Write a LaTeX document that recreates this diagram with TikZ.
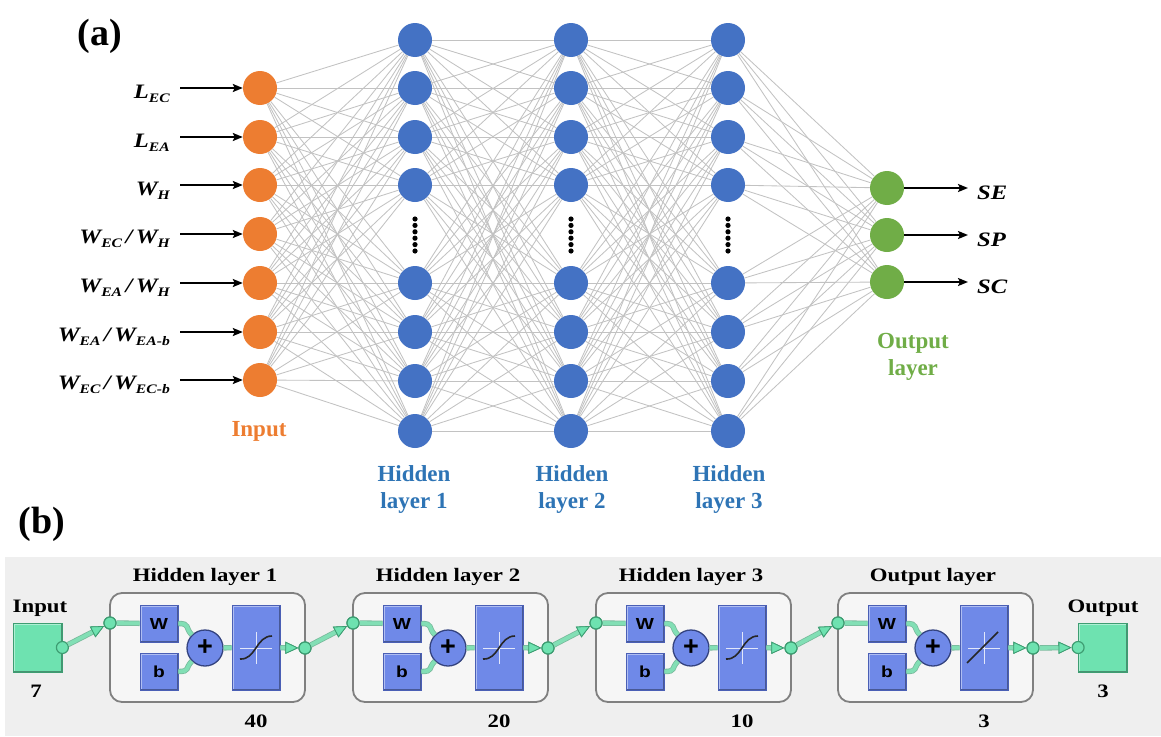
\documentclass[tikz,border=0pt]{standalone}
\usepackage{fontspec}
\setmainfont{Liberation Serif}
\newfontfamily\wserif[FakeStretch=1.2]{Liberation Serif}
\newfontfamily\wsans[FakeStretch=1.2]{Liberation Sans}
\newfontfamily\psans{Liberation Sans}
\usetikzlibrary{arrows.meta}
\definecolor{nnorange}{HTML}{ED7D31}
\definecolor{nnblue}{HTML}{4472C4}
\definecolor{nngreen}{HTML}{70AD47}
\definecolor{lblblue}{HTML}{2E74B5}
\definecolor{edgegray}{HTML}{C2C2C2}
\definecolor{panelbg}{HTML}{EFEFEF}
\definecolor{framefill}{HTML}{F6F6F6}
\definecolor{framedraw}{HTML}{808080}
\definecolor{boxblue}{HTML}{6F89E8}
\definecolor{boxedge}{HTML}{4A5FB5}
\definecolor{mintfill}{HTML}{6EE2B0}
\definecolor{mintdark}{HTML}{3E9D72}
\definecolor{mintline}{HTML}{82DFB5}
\newcommand\sbs[1]{\raisebox{-4pt}{\fontsize{13}{13}\selectfont #1}}
\tikzset{
  neuron/.style={circle, minimum size=34pt, inner sep=0pt},
  inneuron/.style={neuron, fill=nnorange},
  hidneuron/.style={neuron, fill=nnblue},
  outneuron/.style={neuron, fill=nngreen},
  nnedge/.style={draw=edgegray, line width=0.85pt},
  blackarrow/.style={draw=black, line width=2pt, -{Stealth[length=10pt,width=8pt,inset=2pt]}},
  inlabel/.style={font=\wserif\fontsize{20.5}{24}\selectfont\bfseries\itshape, inner sep=0pt},
  layerlabel/.style={font=\fontsize{23}{27}\selectfont\bfseries, align=center, inner sep=0pt},
  btitle/.style={font=\wserif\fontsize{19}{23}\selectfont\bfseries, inner sep=0pt},
  panelframe/.style={draw=framedraw, fill=framefill, line width=1.8pt, rounded corners=12pt, minimum width=195pt, minimum height=109pt, inner sep=0pt},
  bevel/.style={path picture={
     \draw[line width=3pt, white!45!#1] (path picture bounding box.south west) -- (path picture bounding box.north west) -- (path picture bounding box.north east);
     \draw[line width=3pt, black!35!#1] (path picture bounding box.north east) -- (path picture bounding box.south east) -- (path picture bounding box.south west);}},
  wbbox/.style={fill=boxblue, draw=boxedge, line width=0.8pt, bevel=boxblue, minimum width=38pt, minimum height=37pt, inner sep=0pt, font=\wsans\fontsize{16}{16}\selectfont\bfseries},
  tfbox/.style={fill=boxblue, draw=boxedge, line width=0.8pt, bevel=boxblue, minimum width=48pt, minimum height=85pt, inner sep=0pt},
  plusnode/.style={circle, fill=boxblue, draw=boxedge!70!black, line width=1.3pt, minimum size=36pt, inner sep=0pt, font=\psans\bfseries\fontsize{27}{27}\selectfont},
  gcirc/.style={circle, fill=mintfill, draw=mintdark, line width=1.2pt, minimum size=12pt, inner sep=0pt},
  mintsq/.style={fill=mintfill, draw=mintdark, line width=0.8pt, bevel=mintfill, minimum width=49pt, minimum height=49pt, inner sep=0pt},
  gline/.style={draw=mintline, line width=3.8pt, preaction={draw=mintdark!70, line width=5.4pt}},
  gtip/.style={-{Triangle[length=13pt,width=12pt,fill=mintfill,color=mintdark,line width=0.8pt]}},
}
\begin{document}
\begin{tikzpicture}[x=1pt,y=-1pt]
\useasboundingbox (0,0) rectangle (1161,736);
% ---------------- (a) ----------------
\node[font=\fontsize{38}{40}\selectfont\bfseries, inner sep=0pt] (alab) at (100,36) {(a)};
\foreach \y [count=\j] in {88,137,185,234,283,332,380}
  \node[inneuron] (i\j) at (260,\y) {};
\foreach \x [count=\k] in {415,571,728}{
  \foreach \y [count=\j] in {40,88,137,185,283,332,381,431}
    \node[hidneuron] (h\k-\j) at (\x,\y) {};
}
\foreach \y [count=\j] in {188,235,282}
  \node[outneuron] (o\j) at (887,\y) {};
% edges
\foreach \a in {1,...,7}
  \foreach \b in {1,...,8}
    \draw[nnedge] (i\a) -- (h1-\b);
\foreach \a in {1,...,8}
  \foreach \b in {1,...,8}{
    \draw[nnedge] (h1-\a) -- (h2-\b);
    \draw[nnedge] (h2-\a) -- (h3-\b);
  }
\foreach \a in {1,...,8}
  \foreach \b in {1,...,3}
    \draw[nnedge] (h3-\a) -- (o\b);
% vertical dots
\foreach \x in {415,571,728}
  \foreach \d in {0,...,5}
    \fill ({\x},{219+6.4*\d}) circle[radius=2.6];
% input labels and arrows
\node[inlabel, anchor=base east] (t1) at (170,98) {L\sbs{EC}};
\node[inlabel, anchor=base east] (t2) at (170,147) {L\sbs{EA}};
\node[inlabel, anchor=base east] (t3) at (170,195) {W\sbs{H}};
\node[inlabel, anchor=base east] (t4) at (170,243) {W\sbs{EC}\,/\,W\sbs{H}};
\node[inlabel, anchor=base east] (t5) at (170,292) {W\sbs{EA}\,/\,W\sbs{H}};
\node[inlabel, anchor=base east] (t6) at (170,341) {W\sbs{EA}\,/\,W\sbs{EA-b}};
\node[inlabel, anchor=base east] (t7) at (170,389) {W\sbs{EC}\,/\,W\sbs{EC-b}};
\foreach \y [count=\j] in {88,137,185,234,283,332,380}{
  \coordinate (s\j) at (180,\y);
  \draw[blackarrow] (s\j) -- (i\j);
}
% output arrows and labels
\node[inlabel, anchor=base west] (u1) at (977,199) {SE};
\node[inlabel, anchor=base west] (u2) at (977,246) {SP};
\node[inlabel, anchor=base west] (u3) at (977,293) {SC};
\foreach \y [count=\j] in {188,235,282}{
  \coordinate (e\j) at (968,\y);
  \draw[blackarrow] (o\j) -- (e\j);
}
% layer labels
\node[layerlabel, text=nnorange] (linput) at (259,431) {Input};
\node[layerlabel, text=lblblue] (lh1) at (414,489) {Hidden\\layer 1};
\node[layerlabel, text=lblblue] (lh2) at (572,489) {Hidden\\layer 2};
\node[layerlabel, text=lblblue] (lh3) at (729,489) {Hidden\\layer 3};
\node[layerlabel, text=nngreen] (lout) at (913,357) {Output\\layer};
% ---------------- (b) ----------------
\node[font=\fontsize{38}{40}\selectfont\bfseries, inner sep=0pt] (blab) at (42,524) {(b)};
\fill[panelbg] (5,557) rectangle (1161,736);
\node[btitle] (inttl) at (40,608) {Input};
\node[btitle] (innum) at (36,691) {7};
\node[mintsq] (insq) at (37.5,647.5) {};
\node[gcirc] (inc) at (insq.east) {};
\node[btitle] (outttl) at (1103,608) {Output};
\node[btitle] (outnum) at (1103,691) {3};
\node[mintsq] (outsq) at (1103,647.5) {};
\node[gcirc] (outc) at (outsq.west) {};
\foreach \k/\L/\ti/\n in {1/110/Hidden layer 1/40, 2/353/Hidden layer 2/20, 3/596/Hidden layer 3/10, 4/838/Output layer/3}{
  \node[panelframe] (fr\k) at ({\L+97.5},647.5) {};
  \node[btitle] (ti\k) at ({\L+95},577) {\ti};
  \node[btitle] (nu\k) at ({\L+146},721) {\n};
  \node[wbbox] (w\k) at ({\L+49},623.5) {W};
  \node[wbbox] (b\k) at ({\L+49},671.5) {b};
  \node[plusnode] (p\k) at ({\L+95},648) {+};
  \node[tfbox] (tf\k) at ({\L+146},647.5) {};
  \draw[white!80!boxblue, line width=0.8pt] ({\L+130},648) -- ({\L+162},648);
  \draw[white!80!boxblue, line width=0.8pt] ({\L+146},632) -- ({\L+146},664);
  \ifnum\k<4
    \draw[black!85, line width=1.6pt] ({\L+130},659) .. controls ({\L+146},660) and ({\L+146},636) .. ({\L+162},636);
  \else
    \draw[black!85, line width=1.6pt] ({\L+129},663) -- ({\L+160},632);
  \fi
  \node[gcirc] (ci\k) at ({\L},623) {};
  \node[gcirc] (co\k) at ({\L+195},648) {};
  \draw[gline] (ci\k) -- (w\k);
  \draw[gline] (w\k.east) .. controls +(12,0) and +(-7,-7) .. (p\k.north west);
  \draw[gline] (b\k.east) .. controls +(12,0) and +(-7,7) .. (p\k.south west);
  \draw[gline] (p\k) -- (tf\k);
  \draw[gline, gtip] (tf\k) -- (co\k);
  \node[gcirc] at (ci\k) {};
  \node[gcirc] at (co\k) {};
}
\draw[gline, gtip] (inc) -- (ci1);
\draw[gline, gtip] (co1) -- (ci2);
\draw[gline, gtip] (co2) -- (ci3);
\draw[gline, gtip] (co3) -- (ci4);
\draw[gline, gtip] (co4) -- (outc);
\end{tikzpicture}
\end{document}
